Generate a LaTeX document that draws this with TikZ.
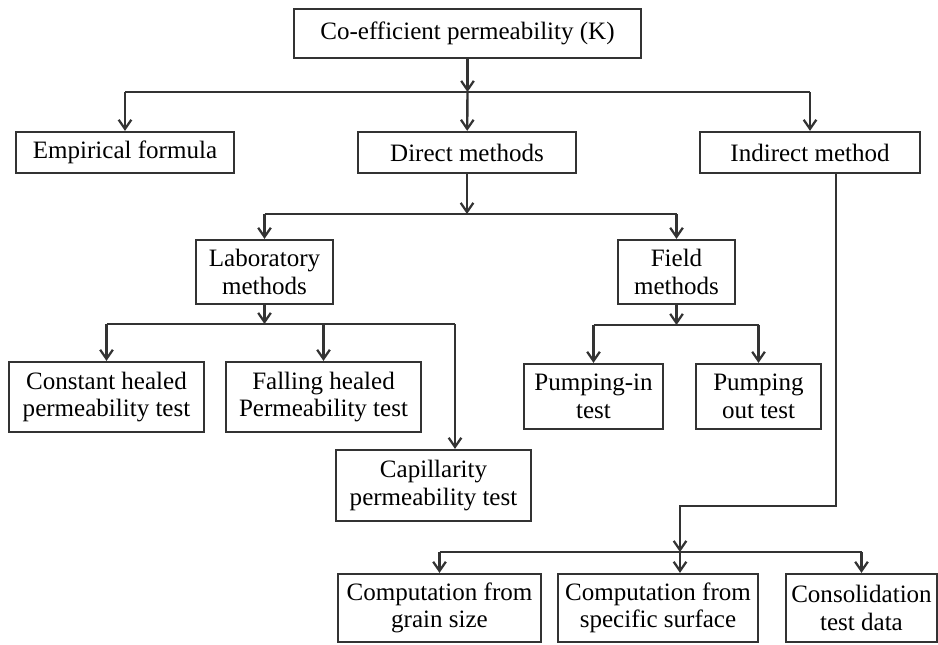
\documentclass[tikz,border=0pt]{standalone}
\usepackage{fontspec}
\setmainfont{Liberation Serif}
\usepackage{tikz}
\usetikzlibrary{arrows.meta,positioning}
\definecolor{permLine}{HTML}{333333}

\begin{document}
\begin{tikzpicture}[
    x=0.025cm, y=-0.025cm,
    font=\fontsize{17.8}{19.5}\selectfont,
    box/.style={draw=permLine, line width=1.6pt, align=center, inner sep=0pt, fill=white},
    link/.style={draw=permLine, line width=1.7pt},
    arrow/.style={link, -{Straight Barb[length=6.5pt, width=9pt, line width=1.6pt]}}
]
\useasboundingbox (0,0) rectangle (938,644);

\node[box, minimum width=347*0.025cm, minimum height=49*0.025cm] (coeff) at (467.5,33.5) {Co-efficient permeability (K)};

\node[box, minimum width=218*0.025cm, minimum height=41*0.025cm] (emp) at (125,152.5) {Empirical formula};
\node[box, minimum width=218*0.025cm, minimum height=41*0.025cm] (direct) at (467,152.5) {Direct methods};
\node[box, minimum width=220*0.025cm, minimum height=41*0.025cm] (indirect) at (810,152.5) {Indirect method};

\node[box, minimum width=137*0.025cm, minimum height=64*0.025cm] (lab) at (264.5,272) {Laboratory\\methods};
\node[box, minimum width=117*0.025cm, minimum height=64*0.025cm] (field) at (676.5,272) {Field\\methods};

\node[box, minimum width=195*0.025cm, minimum height=70*0.025cm] (const) at (106.5,397) {Constant healed\\permeability test};
\node[box, minimum width=195*0.025cm, minimum height=70*0.025cm] (fall) at (323.5,397) {Falling healed\\Permeability test};
\node[box, minimum width=195*0.025cm, minimum height=71*0.025cm] (capil) at (433.5,485.5) {Capillarity\\permeability test};

\node[box, minimum width=139*0.025cm, minimum height=65*0.025cm] (pumpin) at (593.5,396.5) {Pumping-in\\test};
\node[box, minimum width=125*0.025cm, minimum height=65*0.025cm] (pumpout) at (758.5,396.5) {Pumping\\out test};

\node[box, minimum width=203*0.025cm, minimum height=68*0.025cm] (grain) at (439.5,608) {Computation from\\grain size};
\node[box, minimum width=200*0.025cm, minimum height=68*0.025cm] (specific) at (658,608) {Computation from\\specific surface};
\node[box, minimum width=151*0.025cm, minimum height=68*0.025cm] (consol) at (861.5,608) {Consolidation\\test data};

% junctions of the branch lines
\coordinate (topbar) at (467.5,92);
\coordinate (dirbar) at (467,214);
\coordinate (labbar) at (264.5,324);
\coordinate (capin) at (455,324);
\coordinate (fieldbar) at (676.5,325);
\coordinate (indturn) at (836,506);
\coordinate (compbar) at (680,552);

\draw[arrow] (coeff) -- (topbar);
\draw[link] (topbar -| emp) -- (topbar -| indirect);
\draw[arrow] (topbar -| emp) -- (emp);
\draw[arrow] (topbar) -- (direct);
\draw[arrow] (topbar -| indirect) -- (indirect);

\draw[arrow] (direct) -- (dirbar);
\draw[link] (dirbar -| lab) -- (dirbar -| field);
\draw[arrow] (dirbar -| lab) -- (lab);
\draw[arrow] (dirbar -| field) -- (field);

\draw[arrow] (lab) -- (labbar);
\draw[link] (labbar -| const) -- (capin);
\draw[arrow] (labbar -| const) -- (const);
\draw[arrow] (labbar -| fall) -- (fall);
\draw[arrow] (capin) -- (capin |- capil.north);

\draw[arrow] (field) -- (fieldbar);
\draw[link] (fieldbar -| pumpin) -- (fieldbar -| pumpout);
\draw[arrow] (fieldbar -| pumpin) -- (pumpin);
\draw[arrow] (fieldbar -| pumpout) -- (pumpout);

\draw[arrow] (indturn |- indirect.south) -- (indturn) -| (compbar);
\draw[link] (compbar -| grain) -- (compbar -| consol);
\draw[arrow] (compbar -| grain) -- (grain);
\draw[arrow] (compbar) -- (compbar |- specific.north);
\draw[arrow] (compbar -| consol) -- (consol);

\end{tikzpicture}
\end{document}
